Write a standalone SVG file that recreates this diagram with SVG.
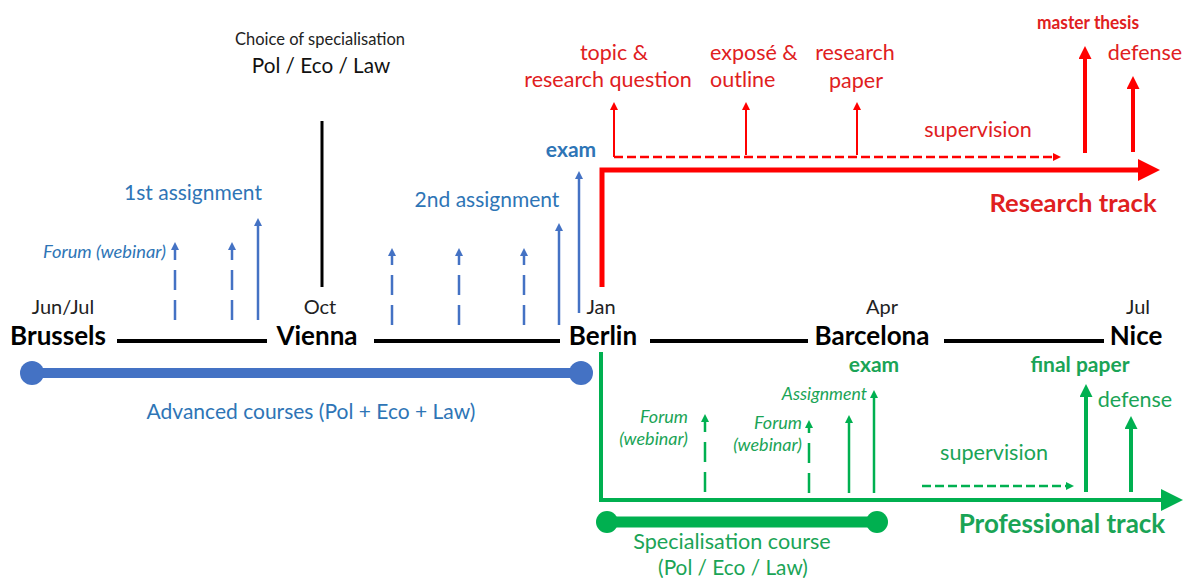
<svg xmlns="http://www.w3.org/2000/svg" width="1189" height="578" viewBox="0 0 1189 578">
<style>
text{font-family:Lato,"Liberation Sans",sans-serif}
.city{font-weight:bold;font-size:26px;fill:#000;text-anchor:middle}
.month{font-size:20px;fill:#222;text-anchor:middle}
.bt{fill:#2E75B6}
.rt{fill:#E0201E}
.gt{fill:#1AA456}
.lbl{font-size:21px}
.rl{font-size:21.5px}
.it{font-style:italic}
.b{font-weight:bold}
.m{text-anchor:middle}
.e{text-anchor:end}
.tl{stroke:#000;stroke-width:4}
.blue{stroke:#4472C4;fill:none}
.red{stroke:#FF0000;fill:none}
.green{stroke:#00B050;fill:none}
.dash{stroke-dasharray:20 10}
.sdash{stroke-dasharray:9 4}
</style>
<defs>
<marker id="ab" viewBox="0 0 10 10" refX="0" refY="5" markerUnits="userSpaceOnUse" markerWidth="9" markerHeight="8" orient="auto"><path d="M0,0 L10,5 L0,10 z" fill="#4472C4"/></marker>
<marker id="ar" viewBox="0 0 10 10" refX="0" refY="5" markerUnits="userSpaceOnUse" markerWidth="10" markerHeight="8" orient="auto"><path d="M0,0 L10,5 L0,10 z" fill="#FF0000"/></marker>
<marker id="arL" viewBox="0 0 10 10" refX="0" refY="5" markerUnits="userSpaceOnUse" markerWidth="14" markerHeight="13" orient="auto"><path d="M0,0 L10,5 L0,10 z" fill="#FF0000"/></marker>
<marker id="arT" viewBox="0 0 10 10" refX="0" refY="5" markerUnits="userSpaceOnUse" markerWidth="22" markerHeight="22" orient="auto"><path d="M0,0 L10,5 L0,10 z" fill="#FF0000"/></marker>
<marker id="ag" viewBox="0 0 10 10" refX="0" refY="5" markerUnits="userSpaceOnUse" markerWidth="10" markerHeight="8" orient="auto"><path d="M0,0 L10,5 L0,10 z" fill="#00B050"/></marker>
<marker id="agL" viewBox="0 0 10 10" refX="0" refY="5" markerUnits="userSpaceOnUse" markerWidth="14" markerHeight="13" orient="auto"><path d="M0,0 L10,5 L0,10 z" fill="#00B050"/></marker>
<marker id="agT" viewBox="0 0 10 10" refX="0" refY="5" markerUnits="userSpaceOnUse" markerWidth="24" markerHeight="22" orient="auto"><path d="M0,0 L10,5 L0,10 z" fill="#00B050"/></marker>
</defs>

<g id="connectors">
<line class="tl" x1="117" y1="341" x2="267" y2="341"/>
<line class="tl" x1="374" y1="341" x2="560" y2="341"/>
<line class="tl" x1="650" y1="341" x2="808" y2="341"/>
<line class="tl" x1="944" y1="341" x2="1104" y2="341"/>
<line x1="322" y1="121" x2="322" y2="287" stroke="#000" stroke-width="3"/>
<line class="blue" x1="32" y1="373" x2="581" y2="373" stroke-width="10"/>
<circle cx="32" cy="373" r="12" fill="#4472C4"/>
<circle cx="581" cy="373" r="12" fill="#4472C4"/>
<line class="blue dash" x1="175" y1="320" x2="175" y2="250" stroke-width="2.5" marker-end="url(#ab)"/>
<line class="blue dash" x1="232" y1="320" x2="232" y2="250" stroke-width="2.5" marker-end="url(#ab)"/>
<line class="blue" x1="258" y1="320" x2="258" y2="226" stroke-width="2.5" marker-end="url(#ab)"/>
<line class="blue dash" x1="392" y1="325" x2="392" y2="256" stroke-width="2.5" marker-end="url(#ab)"/>
<line class="blue dash" x1="459" y1="325" x2="459" y2="256" stroke-width="2.5" marker-end="url(#ab)"/>
<line class="blue dash" x1="524" y1="325" x2="524" y2="256" stroke-width="2.5" marker-end="url(#ab)"/>
<line class="blue" x1="559" y1="325" x2="559" y2="231" stroke-width="2.5" marker-end="url(#ab)"/>
<line class="blue" x1="579" y1="313" x2="579" y2="179" stroke-width="2.5" marker-end="url(#ab)"/>
<polyline class="red" points="602,287 602,170 1138,170" stroke-width="5" marker-end="url(#arT)"/>
<line class="red sdash" x1="614" y1="157" x2="1053" y2="157" stroke-width="2.6" marker-end="url(#ar)"/>
<line class="red" x1="614" y1="157" x2="614" y2="110" stroke-width="2" marker-end="url(#ar)"/>
<line class="red" x1="746" y1="155" x2="746" y2="110" stroke-width="2" marker-end="url(#ar)"/>
<line class="red" x1="857" y1="155" x2="857" y2="110" stroke-width="2" marker-end="url(#ar)"/>
<line class="red" x1="1085" y1="153" x2="1085" y2="59" stroke-width="4" marker-end="url(#arL)"/>
<line class="red" x1="1133" y1="152" x2="1133" y2="89" stroke-width="4" marker-end="url(#arL)"/>
<polyline class="green" points="601,352 601,500 1161,500" stroke-width="4" marker-end="url(#agT)"/>
<line class="green" x1="607" y1="522" x2="877" y2="522" stroke-width="11"/>
<circle cx="607" cy="522" r="11" fill="#00B050"/>
<circle cx="877" cy="522" r="11" fill="#00B050"/>
<line class="green dash" x1="705" y1="492" x2="705" y2="422" stroke-width="2.5" marker-end="url(#ag)"/>
<line class="green dash" x1="809" y1="493" x2="809" y2="428" stroke-width="2.5" marker-end="url(#ag)"/>
<line class="green" x1="849" y1="493" x2="849" y2="423" stroke-width="2.5" marker-end="url(#ag)"/>
<line class="green" x1="874" y1="493" x2="874" y2="398" stroke-width="2.5" marker-end="url(#ag)"/>
<line class="green sdash" x1="922" y1="486" x2="1066" y2="486" stroke-width="2.6" marker-end="url(#ag)"/>
<line class="green" x1="1086" y1="492" x2="1086" y2="397" stroke-width="4" marker-end="url(#agL)"/>
<line class="green" x1="1131" y1="492" x2="1131" y2="429" stroke-width="4" marker-end="url(#agL)"/>
</g>

<g id="brussels"><text class="month" x="63" y="314">Jun/Jul</text><text class="city" x="58" y="345">Brussels</text></g>
<g id="vienna"><text class="month" x="320" y="314">Oct</text><text class="city" x="317" y="345">Vienna</text></g>
<g id="berlin"><text class="month" x="601" y="314">Jan</text><text class="city" x="603" y="345">Berlin</text></g>
<g id="barcelona"><text class="month" x="882" y="314">Apr</text><text class="city" x="872" y="345">Barcelona</text></g>
<g id="nice"><text class="month" x="1138" y="314">Jul</text><text class="city" x="1136" y="345">Nice</text></g>

<g id="choice"><text class="m" x="320" y="45" font-size="16.5" fill="#222">Choice of specialisation</text><text class="m" x="321" y="73" font-size="20.7" fill="#111">Pol / Eco / Law</text></g>

<g id="advanced-courses"><text class="bt lbl m" x="311" y="419">Advanced courses (Pol + Eco + Law)</text></g>
<g id="blue-forum"><text class="bt it e" x="166" y="258" font-size="17" textLength="123" lengthAdjust="spacingAndGlyphs">Forum (webinar)</text></g>
<g id="first-assignment"><text class="bt lbl m" x="193" y="200">1st assignment</text></g>
<g id="second-assignment"><text class="bt lbl m" x="487" y="207" font-size="21.3">2nd assignment</text></g>
<g id="blue-exam"><text class="bt b m" x="571" y="157" font-size="21">exam</text></g>

<g id="research-track"><text class="rt b m" x="1073" y="212" font-size="25.6">Research track</text></g>
<g id="topic"><text class="rt rl m" x="614" y="60">topic &amp;</text><text class="rt rl m" x="608" y="87">research question</text></g>
<g id="expose"><text class="rt rl" x="710" y="60">exposé &amp;</text><text class="rt rl" x="710" y="87">outline</text></g>
<g id="research-paper"><text class="rt rl m" x="855" y="60">research</text><text class="rt rl m" x="856" y="88">paper</text></g>
<g id="red-supervision"><text class="rt rl m" x="978" y="137">supervision</text></g>
<g id="master-thesis"><text class="rt b m" x="1088" y="29" font-size="19.5" textLength="102" lengthAdjust="spacingAndGlyphs">master thesis</text></g>
<g id="red-defense"><text class="rt rl m" x="1145" y="60">defense</text></g>

<g id="professional-track"><text class="gt b m" x="1062" y="533" font-size="26">Professional track</text></g>
<g id="specialisation-course"><text class="gt m" x="732" y="549" font-size="21.6">Specialisation course</text><text class="gt m" x="733" y="575" font-size="20.8">(Pol / Eco / Law)</text></g>
<g id="green-forum-1"><text class="gt it e" x="688" y="423" font-size="18">Forum</text><text class="gt it e" x="688" y="445" font-size="18">(webinar)</text></g>
<g id="green-forum-2"><text class="gt it e" x="802" y="429" font-size="18">Forum</text><text class="gt it e" x="802" y="451" font-size="18">(webinar)</text></g>
<g id="green-assignment"><text class="gt it e" x="867" y="400" font-size="17.7">Assignment</text></g>
<g id="green-exam"><text class="gt b m" x="874" y="372" font-size="21">exam</text></g>
<g id="green-supervision"><text class="gt m" x="994" y="460" font-size="21.6">supervision</text></g>
<g id="final-paper"><text class="gt b m" x="1080" y="372" font-size="21">final paper</text></g>
<g id="green-defense"><text class="gt m" x="1135" y="407" font-size="21.5">defense</text></g>
</svg>
